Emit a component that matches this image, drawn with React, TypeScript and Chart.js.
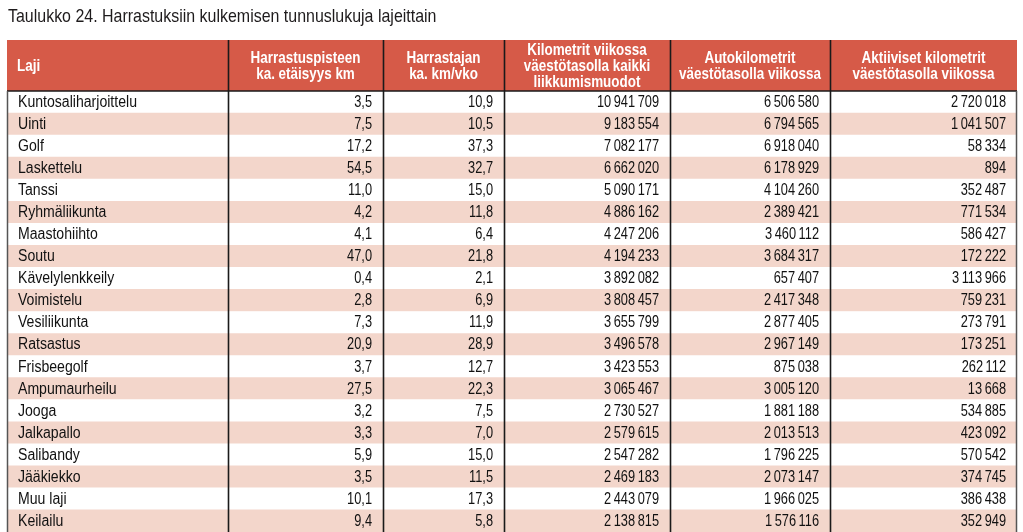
import { useEffect, useRef } from "react";
import { Chart, registerables } from "chart.js";

Chart.register(...registerables);

const title = "Taulukko 24. Harrastuksiin kulkemisen tunnuslukuja lajeittain";

const columnHeaders: string[][] = [
  ["Laji"],
  ["Harrastuspisteen", "ka. etäisyys km"],
  ["Harrastajan", "ka. km/vko"],
  ["Kilometrit viikossa", "väestötasolla kaikki", "liikkumismuodot"],
  ["Autokilometrit", "väestötasolla viikossa"],
  ["Aktiiviset kilometrit", "väestötasolla viikossa"],
];

const sports = [
  "Kuntosaliharjoittelu",
  "Uinti",
  "Golf",
  "Laskettelu",
  "Tanssi",
  "Ryhmäliikunta",
  "Maastohiihto",
  "Soutu",
  "Kävelylenkkeily",
  "Voimistelu",
  "Vesiliikunta",
  "Ratsastus",
  "Frisbeegolf",
  "Ampumaurheilu",
  "Jooga",
  "Jalkapallo",
  "Salibandy",
  "Jääkiekko",
  "Muu laji",
  "Keilailu",
];

const avgDistanceKm = [3.5, 7.5, 17.2, 54.5, 11.0, 4.2, 4.1, 47.0, 0.4, 2.8, 7.3, 20.9, 3.7, 27.5, 3.2, 3.3, 5.9, 3.5, 10.1, 9.4];
const avgWeeklyKm = [10.9, 10.5, 37.3, 32.7, 15.0, 11.8, 6.4, 21.8, 2.1, 6.9, 11.9, 28.9, 12.7, 22.3, 7.5, 7.0, 15.0, 11.5, 17.3, 5.8];
const totalWeeklyKm = [10941709, 9183554, 7082177, 6662020, 5090171, 4886162, 4247206, 4194233, 3892082, 3808457, 3655799, 3496578, 3423553, 3065467, 2730527, 2579615, 2547282, 2469183, 2443079, 2138815];
const carWeeklyKm = [6506580, 6794565, 6918040, 6178929, 4104260, 2389421, 3460112, 3684317, 657407, 2417348, 2877405, 2967149, 875038, 3005120, 1881188, 2013513, 1796225, 2073147, 1966025, 1576116];
const activeWeeklyKm = [2720018, 1041507, 58334, 894, 352487, 771534, 586427, 172222, 3113966, 759231, 273791, 173251, 262112, 13668, 534885, 423092, 570542, 374745, 386438, 352949];

// layout (not data)
const COL_W = [221, 155, 121, 166, 160, 187];
const TOTAL_W = COL_W.reduce((a, b) => a + b, 0);
const EDGES = COL_W.reduce<number[]>((acc, w) => [...acc, acc[acc.length - 1] + w], [0]);
const HEADER_H = 51;
const RED = "#d65a48";
const PINK = "#f3d6cb";
const TEXT = "#111111";
const FONT = '"Liberation Sans", Arial, sans-serif';

const fmtDec = (v: number) => v.toFixed(1).replace(".", ",");
const fmtInt = (v: number) => String(v).replace(/\B(?=(\d{3})+(?!\d))/g, "\u2009");

const columns: string[][] = [
  avgDistanceKm.map(fmtDec),
  avgWeeklyKm.map(fmtDec),
  totalWeeklyKm.map(fmtInt),
  carWeeklyKm.map(fmtInt),
  activeWeeklyKm.map(fmtInt),
];

function drawText(ctx: CanvasRenderingContext2D, txt: string, x: number, y: number, align: CanvasTextAlign, sx: number) {
  ctx.save();
  ctx.translate(x, y);
  ctx.scale(sx, 1);
  ctx.textAlign = align;
  ctx.fillText(txt, 0, 0);
  ctx.restore();
}

const tablePlugin = {
  id: "tablePlugin",
  afterDraw(chart: any) {
    const { ctx, chartArea, scales } = chart;
    const xs = scales.x;
    const ys = scales.y;
    const left = xs.getPixelForValue(0);
    const right = xs.getPixelForValue(TOTAL_W);
    const top = chartArea.top;
    const bottom = chartArea.bottom;
    const headerTop = top - HEADER_H;
    ctx.save();

    // title
    ctx.fillStyle = "#1e1b1c";
    ctx.font = `19px ${FONT}`;
    ctx.textBaseline = "alphabetic";
    drawText(ctx, title, left + 1, 22, "left", 0.84);

    // header background
    ctx.fillStyle = RED;
    ctx.fillRect(left, headerTop, right - left, HEADER_H);

    // header text
    ctx.fillStyle = "#ffffff";
    ctx.font = `bold 16px ${FONT}`;
    ctx.textBaseline = "middle";
    const headerMid = headerTop + HEADER_H / 2 + 0.8;
    const lh = 15.8;
    columnHeaders.forEach((lines, c) => {
      const x0 = xs.getPixelForValue(EDGES[c]);
      const x1 = xs.getPixelForValue(EDGES[c + 1]);
      lines.forEach((line, li) => {
        const yy = headerMid + (li - (lines.length - 1) / 2) * lh;
        if (c === 0) {
          drawText(ctx, line, x0 + 10, yy, "left", 0.84);
        } else {
          drawText(ctx, line, (x0 + x1) / 2, yy, "center", 0.84);
        }
      });
    });

    // sport names
    ctx.fillStyle = TEXT;
    ctx.font = `16px ${FONT}`;
    ctx.textBaseline = "middle";
    sports.forEach((name, r) => {
      drawText(ctx, name, xs.getPixelForValue(EDGES[0]) + 11, ys.getPixelForValue(r) + 0.5, "left", 0.88);
    });

    // numeric cells
    columns.forEach((vals, c) => {
      const xr = xs.getPixelForValue(EDGES[c + 2]) - 11;
      vals.forEach((txt, r) => {
        drawText(ctx, txt, xr, ys.getPixelForValue(r) + 0.5, "right", 0.8);
      });
    });

    // lines
    ctx.strokeStyle = "#1a1a1a";
    ctx.lineWidth = 1.6;
    for (let c = 1; c < EDGES.length - 1; c++) {
      const x = Math.round(xs.getPixelForValue(EDGES[c])) + 0.5;
      ctx.beginPath();
      ctx.moveTo(x, headerTop);
      ctx.lineTo(x, bottom);
      ctx.stroke();
    }
    ctx.beginPath();
    ctx.moveTo(left, top);
    ctx.lineTo(right, top);
    ctx.stroke();

    ctx.strokeStyle = "#555555";
    ctx.lineWidth = 1.5;
    ctx.beginPath();
    ctx.moveTo(left + 0.5, top);
    ctx.lineTo(left + 0.5, bottom);
    ctx.moveTo(right - 0.5, top);
    ctx.lineTo(right - 0.5, bottom);
    ctx.stroke();

    ctx.restore();
  },
};

export default function App() {
  const ref = useRef<HTMLCanvasElement | null>(null);

  useEffect(() => {
    if (!ref.current) return;
    const chart = new Chart(ref.current, {
      type: "bar",
      data: {
        labels: sports,
        datasets: [
          {
            data: sports.map(() => [0, TOTAL_W]) as any,
            backgroundColor: sports.map((_, i) => (i % 2 === 1 ? PINK : "#ffffff")),
            borderWidth: 0,
            barPercentage: 1,
            categoryPercentage: 1,
          },
        ],
      },
      options: {
        indexAxis: "y",
        responsive: false,
        animation: false,
        events: [],
        layout: { padding: { left: 7, right: 6, top: 91, bottom: 0 } },
        plugins: {
          legend: { display: false },
          tooltip: { enabled: false },
          title: { display: false },
        },
        scales: {
          x: {
            type: "linear",
            min: 0,
            max: TOTAL_W,
            display: false,
          },
          y: {
            type: "category",
            display: false,
            offset: true,
          },
        },
      },
      plugins: [tablePlugin],
    });
    return () => chart.destroy();
  }, []);

  return (
    <div style={{ position: "absolute", left: 0, top: 0, width: 1023, height: 532, background: "#ffffff" }}>
      <canvas ref={ref} width={1023} height={532} style={{ display: "block" }} />
    </div>
  );
}
